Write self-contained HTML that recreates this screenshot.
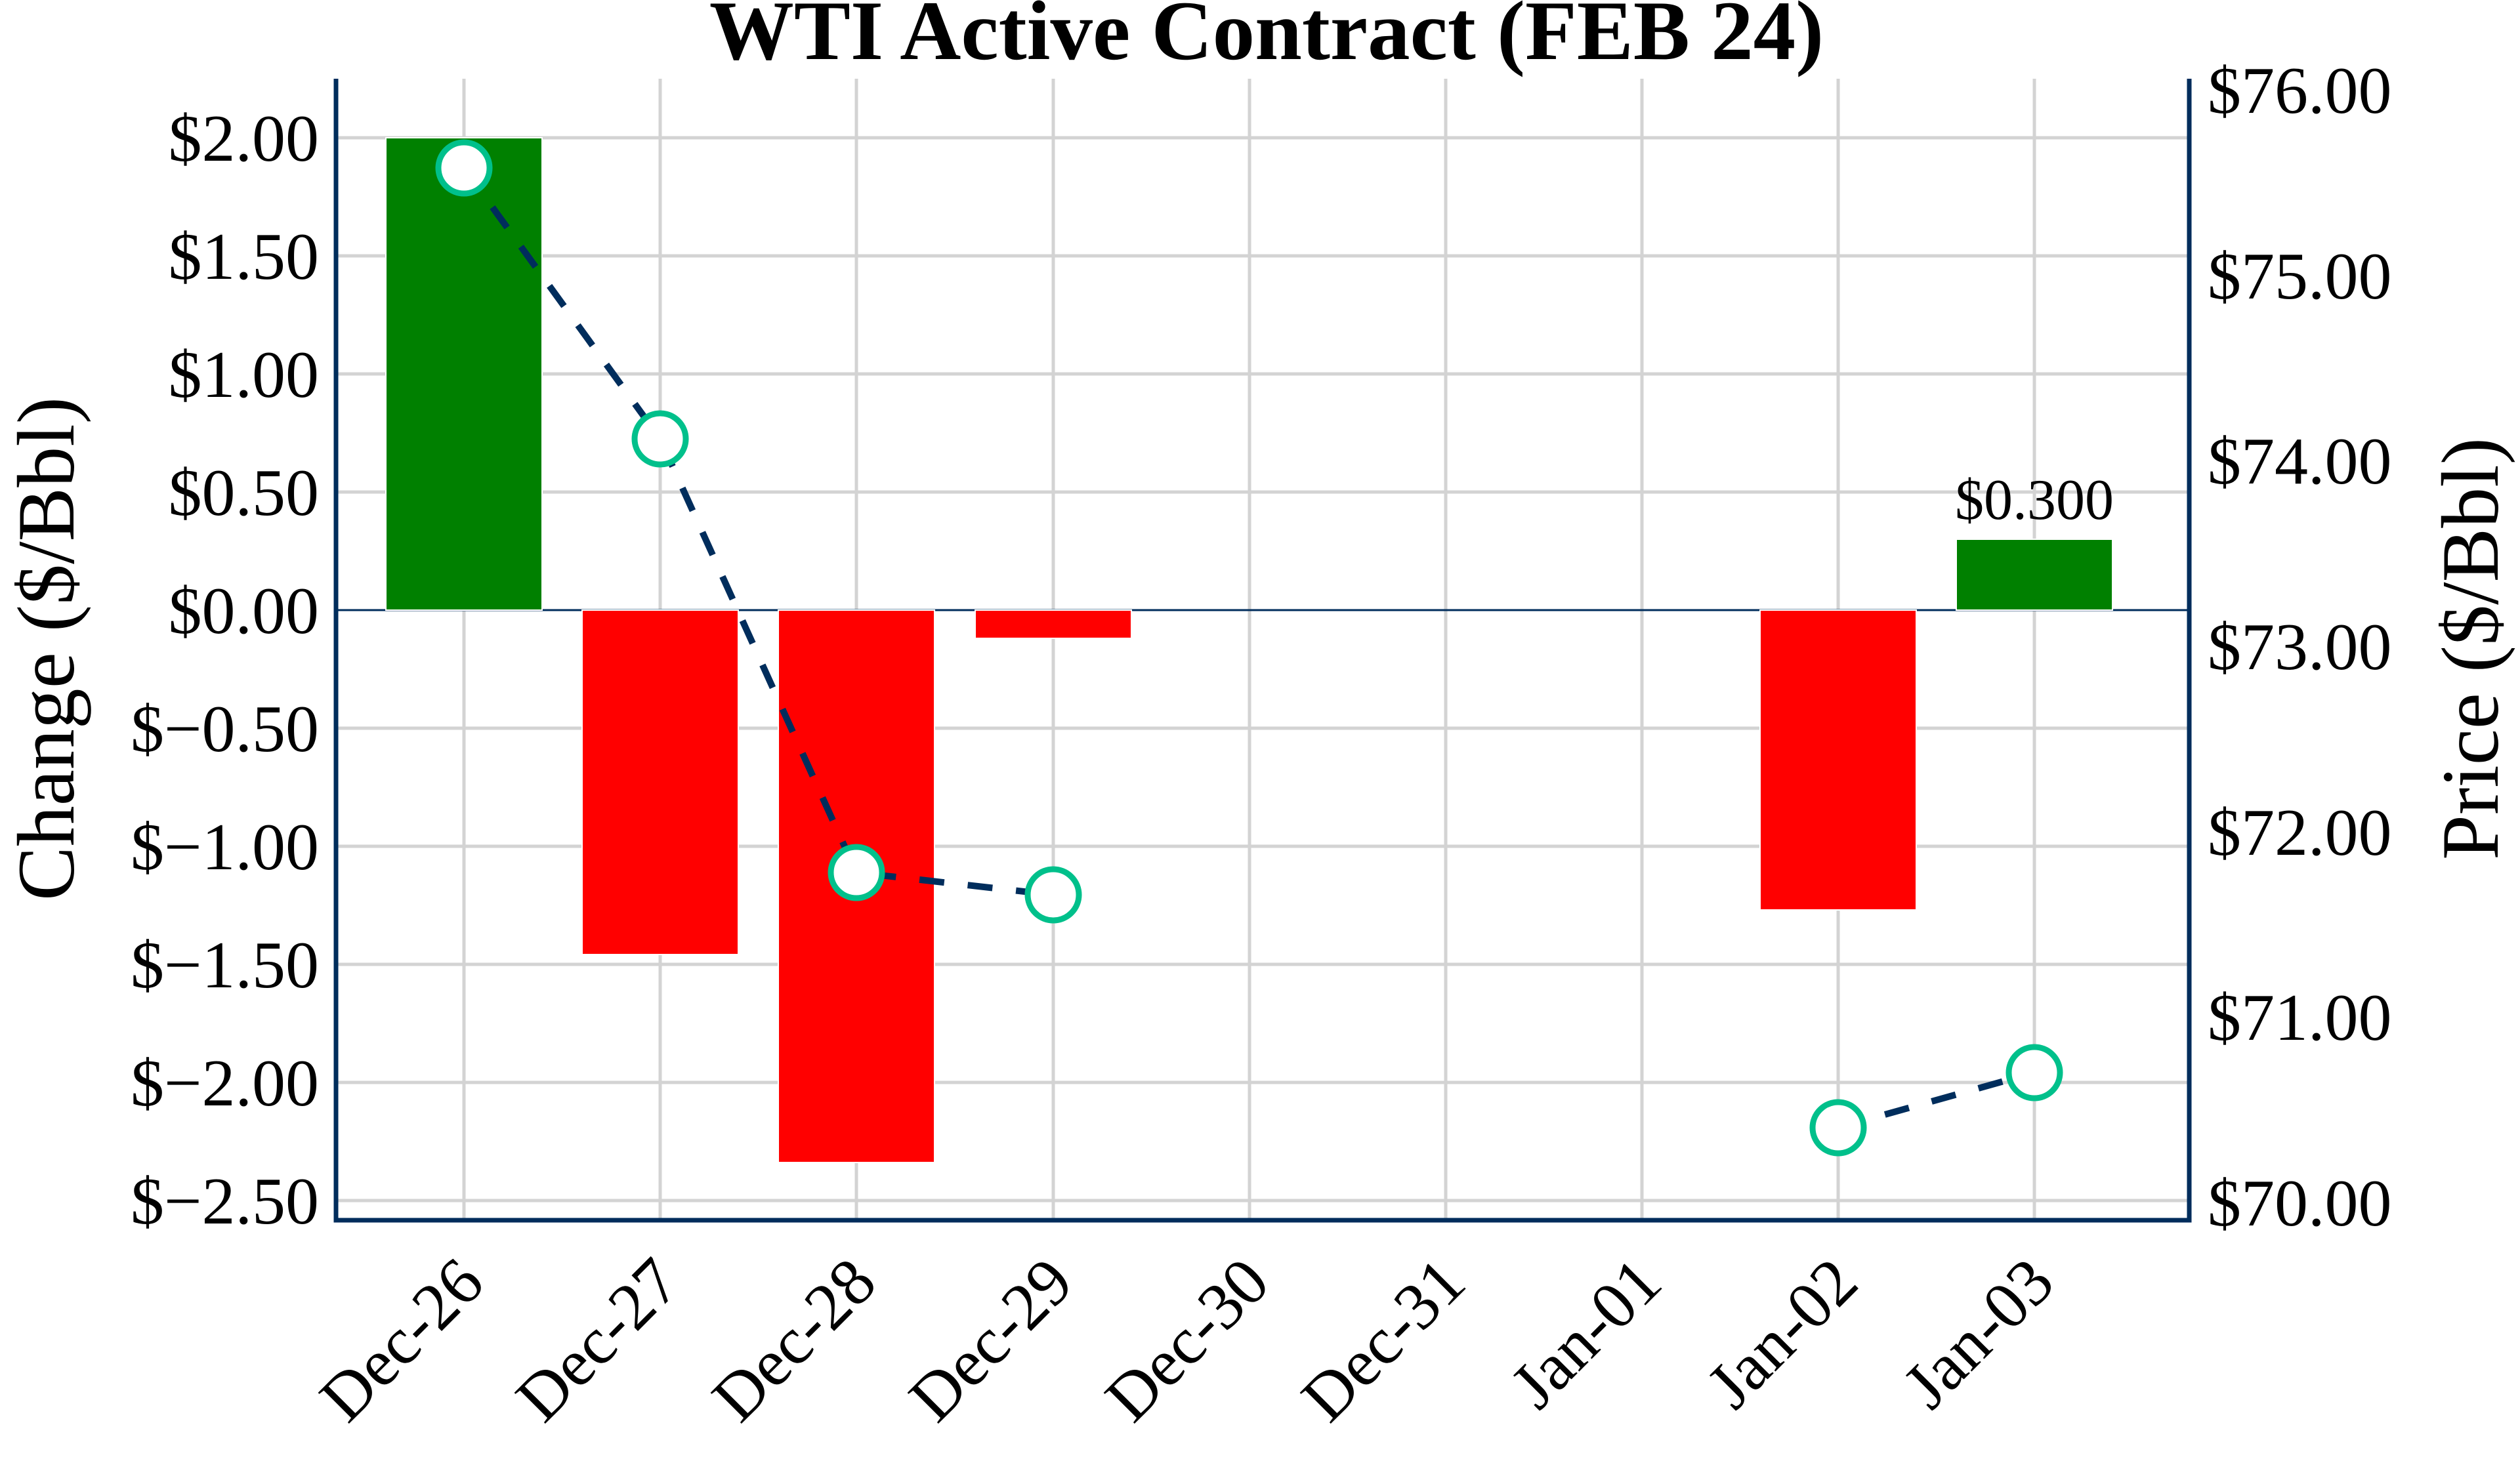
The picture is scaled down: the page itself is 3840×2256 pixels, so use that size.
<!DOCTYPE html>
<html><head><meta charset="utf-8"><style>
html,body{margin:0;padding:0;background:#fff}
svg{display:block}
text{font-family:"Liberation Serif",serif;fill:#000}
</style></head><body>
<svg width="3840" height="2256" viewBox="0 0 3840 2256" xmlns="http://www.w3.org/2000/svg">
<rect width="3840" height="2256" fill="#fff"/>
<g stroke="#d3d3d3" stroke-width="5">
<line x1="707" y1="120" x2="707" y2="1860"/>
<line x1="1006" y1="120" x2="1006" y2="1860"/>
<line x1="1305" y1="120" x2="1305" y2="1860"/>
<line x1="1605" y1="120" x2="1605" y2="1860"/>
<line x1="1904" y1="120" x2="1904" y2="1860"/>
<line x1="2203" y1="120" x2="2203" y2="1860"/>
<line x1="2502" y1="120" x2="2502" y2="1860"/>
<line x1="2801" y1="120" x2="2801" y2="1860"/>
<line x1="3100" y1="120" x2="3100" y2="1860"/>
<line x1="512" y1="210" x2="3336" y2="210"/>
<line x1="512" y1="390" x2="3336" y2="390"/>
<line x1="512" y1="570" x2="3336" y2="570"/>
<line x1="512" y1="750" x2="3336" y2="750"/>
<line x1="512" y1="1110" x2="3336" y2="1110"/>
<line x1="512" y1="1290" x2="3336" y2="1290"/>
<line x1="512" y1="1470" x2="3336" y2="1470"/>
<line x1="512" y1="1650" x2="3336" y2="1650"/>
<line x1="512" y1="1830" x2="3336" y2="1830"/>
</g>
<line x1="512" y1="930" x2="3336" y2="930" stroke="#002D5C" stroke-width="3"/>
<g stroke="#fff" stroke-width="2">
<rect x="588" y="210" width="238" height="720" fill="#008000"/>
<rect x="887" y="930" width="238" height="525" fill="#ff0000"/>
<rect x="1186" y="930" width="238" height="842" fill="#ff0000"/>
<rect x="1486" y="930" width="238" height="43" fill="#ff0000"/>
<rect x="2682" y="930" width="238" height="457" fill="#ff0000"/>
<rect x="2981" y="822" width="238" height="108" fill="#008000"/>
</g>
<text x="3100" y="791" font-size="88" text-anchor="middle">$0.300</text>
<g stroke="#002D5C" stroke-width="10" stroke-dasharray="38 36" fill="none">
<polyline points="707,256 1006,669 1305,1330 1605,1364"/>
<polyline points="2801,1719 3100,1635"/>
</g>
<g fill="#fff" stroke="#00C08B" stroke-width="9">
<circle cx="707" cy="256" r="39"/>
<circle cx="1006" cy="669" r="39"/>
<circle cx="1305" cy="1330" r="39"/>
<circle cx="1605" cy="1364" r="39"/>
<circle cx="2801" cy="1719" r="39"/>
<circle cx="3100" cy="1635" r="39"/>
</g>
<g stroke="#002D5C" stroke-width="7" fill="none">
<polyline points="512,120 512,1860 3336,1860 3336,120"/>
</g>
<g font-size="102" text-anchor="end">
<text x="486" y="245">$2.00</text>
<text x="486" y="425">$1.50</text>
<text x="486" y="605">$1.00</text>
<text x="486" y="785">$0.50</text>
<text x="486" y="965">$0.00</text>
<text x="486" y="1145">$−0.50</text>
<text x="486" y="1325">$−1.00</text>
<text x="486" y="1505">$−1.50</text>
<text x="486" y="1685">$−2.00</text>
<text x="486" y="1865">$−2.50</text>
</g>
<g font-size="102">
<text x="3364" y="172">$76.00</text>
<text x="3364" y="455">$75.00</text>
<text x="3364" y="737">$74.00</text>
<text x="3364" y="1020">$73.00</text>
<text x="3364" y="1303">$72.00</text>
<text x="3364" y="1585">$71.00</text>
<text x="3364" y="1868">$70.00</text>
</g>
<g font-size="102" text-anchor="end">
<text transform="translate(742,1960) rotate(-45)">Dec-26</text>
<text transform="translate(1041,1960) rotate(-45)">Dec-27</text>
<text transform="translate(1340,1960) rotate(-45)">Dec-28</text>
<text transform="translate(1640,1960) rotate(-45)">Dec-29</text>
<text transform="translate(1939,1960) rotate(-45)">Dec-30</text>
<text transform="translate(2238,1960) rotate(-45)">Dec-31</text>
<text transform="translate(2537,1960) rotate(-45)">Jan-01</text>
<text transform="translate(2836,1960) rotate(-45)">Jan-02</text>
<text transform="translate(3135,1960) rotate(-45)">Jan-03</text>
</g>
<text transform="translate(112,989) rotate(-90)" font-size="124" text-anchor="middle">Change ($/Bbl)</text>
<text transform="translate(3806,989) rotate(-90)" font-size="124" text-anchor="middle">Price ($/Bbl)</text>
<text x="1930" y="90" font-size="129" font-weight="bold" text-anchor="middle">WTI Active Contract (FEB 24)</text>
</svg>
</body></html>
